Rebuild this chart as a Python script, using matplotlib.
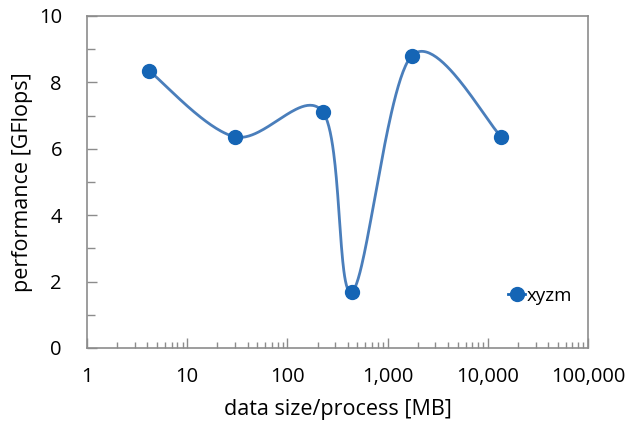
import matplotlib.pyplot as plt
import numpy as np
from matplotlib.ticker import FixedLocator, FuncFormatter, LogLocator, NullFormatter

plt.rcParams['font.family'] = ['Open Sans', 'DejaVu Sans']

# data size per process [MB] and performance [GFlops]
size_mb = [4.2, 30, 226, 441, 1740, 13700]
gflops = [8.34, 6.36, 7.11, 1.69, 8.80, 6.36]
series_name = "xyzm"

line_col = "#4a7ebb"
mark_col = "#1565b5"
spine_col = "#8c8c8c"


def smooth(xs, ys, n=60):
    # Excel-like smoothed line: Catmull-Rom bezier in (log x, y)
    px = np.log10(xs)
    py = np.asarray(ys, float)
    px = np.concatenate([[px[0]], px, [px[-1]]])
    py = np.concatenate([[py[0]], py, [py[-1]]])
    outx, outy = [], []
    t = np.linspace(0, 1, n)
    for i in range(1, len(px) - 2):
        p0 = np.array([px[i], py[i]])
        p3 = np.array([px[i + 1], py[i + 1]])
        c1 = p0 + (p3 - np.array([px[i - 1], py[i - 1]])) / 6
        c2 = p3 - (np.array([px[i + 2], py[i + 2]]) - p0) / 6
        b = ((1 - t) ** 3)[:, None] * p0 + (3 * (1 - t) ** 2 * t)[:, None] * c1 \
            + (3 * (1 - t) * t ** 2)[:, None] * c2 + (t ** 3)[:, None] * p3
        outx.extend(b[:, 0])
        outy.extend(b[:, 1])
    return 10 ** np.array(outx), np.array(outy)


fig = plt.figure(figsize=(6.33, 4.21), dpi=100)
ax = fig.add_axes([0.1374, 0.1734, 0.7915, 0.7886])

cx, cy = smooth(size_mb, gflops)
ax.plot(cx, cy, color=line_col, lw=2)
ax.plot(size_mb, gflops, 'o', color=mark_col, ms=10)
# legend proxy
ax.plot([], [], '-o', color=mark_col, ms=10, lw=2, label=series_name)

ax.set_xscale('log')
ax.set_xlim(1, 100000)
ax.set_ylim(0, 10)
ax.xaxis.set_major_locator(FixedLocator([1, 10, 100, 1000, 10000, 100000]))
ax.xaxis.set_major_formatter(FuncFormatter(lambda v, p: f"{v:,.0f}"))
ax.xaxis.set_minor_locator(LogLocator(base=10, subs=np.arange(2, 10), numticks=20))
ax.xaxis.set_minor_formatter(NullFormatter())
ax.set_yticks([0, 2, 4, 6, 8, 10])
ax.set_yticks([1, 3, 5, 7, 9], minor=True)

for s in ax.spines.values():
    s.set_color(spine_col)
    s.set_linewidth(1.2)

ax.tick_params(which='both', direction='in', color=spine_col, labelsize=14.5, width=1)
ax.tick_params(axis='x', which='major', length=7, pad=14)
ax.tick_params(axis='x', which='minor', length=4)
ax.tick_params(axis='y', which='major', length=7, pad=18)
ax.tick_params(axis='y', which='minor', length=6)
ax.tick_params(top=False, right=False)

ax.set_xlabel("data size/process [MB]", fontsize=15.5, labelpad=8)
ax.set_ylabel("performance [GFlops]", fontsize=15.5, labelpad=4)

ax.legend(loc='center left', bbox_to_anchor=(0.826, 0.157), frameon=False,
          fontsize=13.5, handlelength=0.9, handletextpad=0.1, borderaxespad=0)

fig.savefig("out.png", dpi=100)
